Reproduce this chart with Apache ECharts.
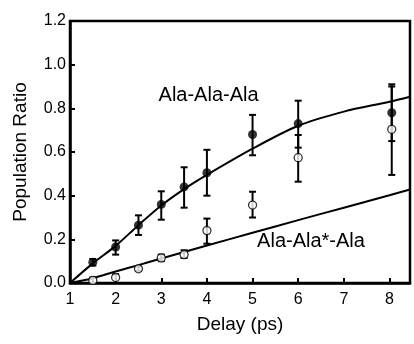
<!DOCTYPE html>
<html>
<head>
<meta charset="utf-8">
<script src="https://cdn.jsdelivr.net/npm/echarts@6/dist/echarts.min.js"></script>
<style>
html,body{margin:0;padding:0;background:#fff;}
#chart{width:414px;height:344px;}
</style>
</head>
<body>
<div id="chart"></div>
<script>
// Ala-Ala-Ala (filled circles)
var xFilled = [1.5, 2, 2.5, 3, 3.5, 4, 5, 6, 8.05];
var yFilled = [0.095, 0.165, 0.265, 0.36, 0.44, 0.505, 0.68, 0.73, 0.78];
var loFilled = [0.08, 0.13, 0.22, 0.29, 0.345, 0.40, 0.585, 0.62, 0.65];
var hiFilled = [0.11, 0.195, 0.31, 0.42, 0.53, 0.61, 0.77, 0.835, 0.91];

// Ala-Ala*-Ala (open circles)
var xOpen = [1.5, 2, 2.5, 3, 3.5, 4, 5, 6, 8.05];
var yOpen = [0.012, 0.025, 0.065, 0.115, 0.13, 0.24, 0.357, 0.574, 0.704];
var loOpen = [0.0, 0.0, 0.055, 0.10, 0.115, 0.18, 0.30, 0.464, 0.495];
var hiOpen = [0.025, 0.04, 0.075, 0.13, 0.15, 0.295, 0.418, 0.678, 0.90];

// fitted curves
var curveX = [1, 1.5, 2, 2.5, 3, 3.5, 4, 5, 6, 7, 8, 8.45];
var fitAAA = [0, 0.09, 0.17, 0.265, 0.355, 0.43, 0.495, 0.615, 0.72, 0.785, 0.83, 0.853];
var fitAAsA = [0, 0.022, 0.053, 0.082, 0.112, 0.142, 0.172, 0.23, 0.288, 0.345, 0.402, 0.428];

var xTicks = [1, 2, 3, 4, 5, 6, 7, 8];
var yTicks = ['0.0', '0.2', '0.4', '0.6', '0.8', '1.0', '1.2'];

var font = '"Liberation Sans", Arial, sans-serif';
var ink = '#000';

function zip(a, b) {
    return a.map(function (v, i) { return [v, b[i]]; });
}
function zip3(a, b, c) {
    return a.map(function (v, i) { return [v, b[i], c[i]]; });
}

function renderErr(params, api) {
    var x = api.value(0);
    var lo = api.coord([x, api.value(1)]);
    var hi = api.coord([x, api.value(2)]);
    var w = 3.5;
    var st = { stroke: ink, lineWidth: 2 };
    return {
        type: 'group',
        children: [
            { type: 'line', shape: { x1: lo[0], y1: lo[1], x2: hi[0], y2: hi[1] }, style: st },
            { type: 'line', shape: { x1: lo[0] - w, y1: lo[1], x2: lo[0] + w, y2: lo[1] }, style: st },
            { type: 'line', shape: { x1: hi[0] - w, y1: hi[1], x2: hi[0] + w, y2: hi[1] }, style: st }
        ]
    };
}

var myChart = echarts.init(document.getElementById('chart'));
var option = {
    animation: false,
    backgroundColor: '#fff',
    textStyle: { fontFamily: font, color: ink },
    grid: {
        left: 70, right: 4, top: 21, bottom: 61,
        show: true, borderColor: ink, borderWidth: 2.5, backgroundColor: 'transparent'
    },
    xAxis: {
        type: 'value',
        min: 1, max: 8.45, interval: 1,
        name: 'Delay (ps)',
        nameLocation: 'middle',
        nameGap: 32,
        nameTextStyle: { fontSize: 19, color: ink, fontFamily: font },
        axisLine: { lineStyle: { color: ink, width: 2.5 } },
        axisTick: { inside: true, length: 5, lineStyle: { color: ink, width: 2 } },
        splitLine: { show: false },
        axisLabel: {
            margin: 9, fontSize: 16, color: ink, fontFamily: font,
            formatter: function (v) { return xTicks.indexOf(v) >= 0 ? String(v) : ''; }
        }
    },
    yAxis: {
        type: 'value',
        min: 0, max: 1.2, interval: 0.2,
        name: 'Population Ratio',
        nameLocation: 'middle',
        nameGap: 40,
        nameTextStyle: { fontSize: 19, color: ink, fontFamily: font },
        axisLine: { lineStyle: { color: ink, width: 2.5 } },
        axisTick: { inside: true, length: 5, lineStyle: { color: ink, width: 2 } },
        splitLine: { show: false },
        axisLabel: {
            margin: 4, fontSize: 16, color: ink, fontFamily: font,
            formatter: function (v) { return yTicks[Math.round(v / 0.2)]; }
        }
    },
    series: [
        {
            type: 'line', data: zip(curveX, fitAAA), smooth: 0.3,
            showSymbol: false, lineStyle: { color: ink, width: 2 }, z: 2,
            markPoint: {
                symbol: 'circle', symbolSize: 0,
                label: { show: true, position: 'right', distance: 0, formatter: 'Ala-Ala-Ala',
                    fontSize: 20, color: ink, fontFamily: font },
                data: [{ coord: [2.94, 0.861] }]
            }
        },
        {
            type: 'line', data: zip(curveX, fitAAsA), smooth: 0.3,
            showSymbol: false, lineStyle: { color: ink, width: 2 }, z: 2,
            markPoint: {
                symbol: 'circle', symbolSize: 0,
                label: { show: true, position: 'right', distance: 0, formatter: 'Ala-Ala*-Ala',
                    fontSize: 20, color: ink, fontFamily: font },
                data: [{ coord: [5.1, 0.189] }]
            }
        },
        { type: 'custom', renderItem: renderErr, data: zip3(xFilled, loFilled, hiFilled), z: 3 },
        { type: 'custom', renderItem: renderErr, data: zip3(xOpen, loOpen, hiOpen), z: 3 },
        {
            type: 'scatter', data: zip(xFilled, yFilled), symbol: 'circle', symbolSize: 9,
            itemStyle: { color: ink }, z: 5
        },
        {
            type: 'scatter', data: zip(xOpen, yOpen), symbol: 'circle', symbolSize: 8,
            itemStyle: { color: '#fff', borderColor: ink, borderWidth: 1.3 }, z: 5
        }
    ]
};
myChart.setOption(option);
</script>
</body>
</html>
